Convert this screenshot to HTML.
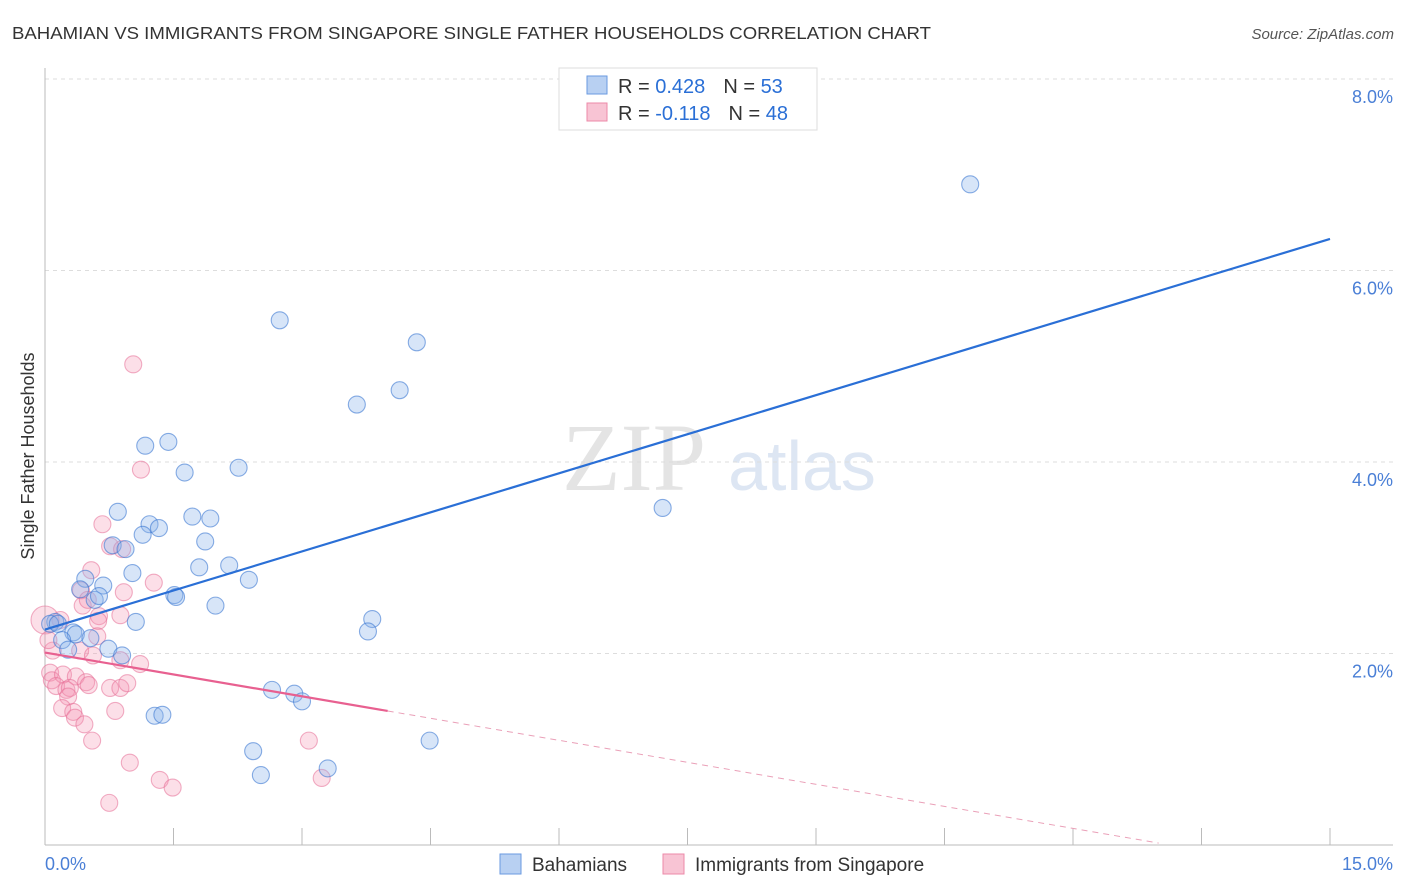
<!DOCTYPE html>
<html><head><meta charset="utf-8"><style>
body{margin:0;background:#fff;font-family:"Liberation Sans",sans-serif}
svg{display:block}
</style></head><body>
<svg id="chart" width="1406" height="892" viewBox="0 0 1406 892">
<text x="12" y="39" font-size="17.5" fill="#333" textLength="919" lengthAdjust="spacingAndGlyphs">BAHAMIAN VS IMMIGRANTS FROM SINGAPORE SINGLE FATHER HOUSEHOLDS CORRELATION CHART</text>
<text x="1394" y="39" font-size="15" fill="#555" text-anchor="end" font-style="italic">Source: ZipAtlas.com</text>
<text x="634" y="490" font-size="96" fill="#e4e4e4" font-family="Liberation Serif,serif" text-anchor="middle">ZIP</text>
<text x="802" y="490" font-size="70" fill="#dde6f3" text-anchor="middle">atlas</text>
<g id="grid"></g>
<line x1="45" y1="68" x2="45" y2="845" stroke="#bbb"/>
<line x1="45" y1="845" x2="1393" y2="845" stroke="#bbb"/>
<text x="34" y="456" font-size="18" fill="#333" text-anchor="middle" transform="rotate(-90 34 456)">Single Father Households</text>
<g id="pts"></g>
<g id="lines"></g>
<g>
<rect x="559" y="68" width="258" height="62" fill="#fff" stroke="#ddd"/>
<rect x="587" y="76" width="20" height="18" fill="#b8d0f2" stroke="#6a9ae0"/>
<rect x="587" y="103" width="20" height="18" fill="#f8c4d4" stroke="#ec8aa8"/>
<text x="618" y="93" font-size="20" fill="#333">R = <tspan fill="#2a6fd6">0.428</tspan><tspan dx="18">N = </tspan><tspan fill="#2a6fd6">53</tspan></text>
<text x="618" y="120" font-size="20" fill="#333">R = <tspan fill="#2a6fd6">-0.118</tspan><tspan dx="18">N = </tspan><tspan fill="#2a6fd6">48</tspan></text>
</g>
<g>
<rect x="500" y="854" width="21" height="20" fill="#b8d0f2" stroke="#6a9ae0"/>
<text x="532" y="871" font-size="19" fill="#333">Bahamians</text>
<rect x="663" y="854" width="21" height="20" fill="#f8c4d4" stroke="#ec8aa8"/>
<text x="695" y="871" font-size="19" fill="#333">Immigrants from Singapore</text>
</g>
<text x="45" y="870" font-size="18" fill="#4a7fd6">0.0%</text>
<text x="1393" y="870" font-size="18" fill="#4a7fd6" text-anchor="end">15.0%</text>
</svg>
<script>
const yTicks=[2,4,6,8];
const yTickLabels=["2.0%","4.0%","6.0%","8.0%"];
const xTicks=[0,1.5,3,4.5,6,7.5,9,10.5,12,13.5,15];
const blueX=[10.8,2.74,4.34,4.14,3.64,1.44,1.17,1.63,2.26,0.85,1.72,1.93,1.22,1.33,1.14,1.87,0.79,0.94,2.15,1.80,1.02,2.38,0.47,0.68,0.41,1.51,1.53,0.58,1.99,3.82,1.06,0.12,0.06,3.77,0.15,0.33,0.36,0.53,0.20,0.27,0.74,0.90,2.65,2.91,3.00,1.28,1.37,7.21,4.49,2.43,2.52,3.30,0.63];
const blueY=[6.90,5.48,5.25,4.75,4.60,4.21,4.17,3.89,3.94,3.48,3.43,3.41,3.35,3.31,3.24,3.17,3.13,3.09,2.92,2.90,2.84,2.77,2.78,2.71,2.67,2.61,2.59,2.56,2.50,2.36,2.33,2.33,2.31,2.23,2.31,2.22,2.20,2.16,2.14,2.04,2.05,1.98,1.62,1.58,1.50,1.35,1.36,3.52,1.09,0.98,0.73,0.80,2.60];
const pinkX=[1.03,1.12,0.67,0.76,0.90,0.54,1.27,0.42,0.92,0.63,0.88,0.62,0.18,0.61,0.41,0.09,0.56,0.88,1.11,0.06,0.08,0.21,0.36,0.48,0.51,0.13,0.25,0.29,0.76,0.88,0.96,0.27,0.20,0.33,0.35,0.46,0.55,0.82,0.99,3.08,1.34,1.49,3.23,0.75,0.00,0.04,0.44,0.50];
const pinkY=[5.02,3.92,3.35,3.12,3.09,2.87,2.74,2.66,2.64,2.39,2.40,2.34,2.35,2.18,2.03,2.03,1.98,1.93,1.89,1.80,1.72,1.78,1.76,1.70,1.67,1.66,1.62,1.64,1.64,1.64,1.69,1.55,1.43,1.39,1.33,1.26,1.09,1.40,0.86,1.09,0.68,0.60,0.70,0.44,2.35,2.14,2.50,2.56];
const blueLine=[[0,2.25],[15,6.33]];
const pinkLine=[[0,2.01],[4.0,1.40]];
const pinkDash=[[4.0,1.40],[13.0,0.02]];
const X=v=>45+v*(1285/15), Y=v=>845-v*95.75;
const ns="http://www.w3.org/2000/svg";
function mk(t,a,p){const e=document.createElementNS(ns,t);for(const k in a)e.setAttribute(k,a[k]);p.appendChild(e);return e;}
const grid=document.getElementById('grid');
yTicks.forEach((t,i)=>{
 const l=mk('line',{x1:45,x2:1393,y1:Y(t),y2:Y(t),stroke:'#ddd','stroke-dasharray':'4,4'},grid);
 
 
 const tx=mk('text',{x:1393,y:Y(t)+24,'font-size':18,fill:'#4a7fd6','text-anchor':'end'},grid);
 tx.textContent=yTickLabels[i];
 
 
});
xTicks.forEach(t=>{
 const l=mk('line',{x1:X(t),x2:X(t),y1:828,y2:845,stroke:'#bbb'},grid);
 
 
});
const pts=document.getElementById('pts');
pinkX.forEach((x,i)=>{
 const c=mk('circle',{cx:X(x),cy:Y(pinkY[i]),r:i==44?14:8.5,fill:'rgba(245,150,180,0.3)',stroke:'rgba(230,110,150,0.55)','stroke-width':1.1},pts);
 
 
});
blueX.forEach((x,i)=>{
 const c=mk('circle',{cx:X(x),cy:Y(blueY[i]),r:8.5,fill:'rgba(140,180,235,0.35)',stroke:'rgba(60,120,210,0.6)','stroke-width':1.1},pts);
 
 
});
const lg=document.getElementById('lines');
const bl=mk('line',{x1:X(blueLine[0][0]),y1:Y(blueLine[0][1]),x2:X(blueLine[1][0]),y2:Y(blueLine[1][1]),stroke:'#2a6fd6','stroke-width':2.2},lg);


const pl=mk('line',{x1:X(pinkLine[0][0]),y1:Y(pinkLine[0][1]),x2:X(pinkLine[1][0]),y2:Y(pinkLine[1][1]),stroke:'#e86090','stroke-width':2.2},lg);


const pd=mk('line',{x1:X(pinkDash[0][0]),y1:Y(pinkDash[0][1]),x2:X(pinkDash[1][0]),y2:Y(pinkDash[1][1]),stroke:'#eaa0b8','stroke-width':1,'stroke-dasharray':'6,5'},lg);


</script>
</body></html>
